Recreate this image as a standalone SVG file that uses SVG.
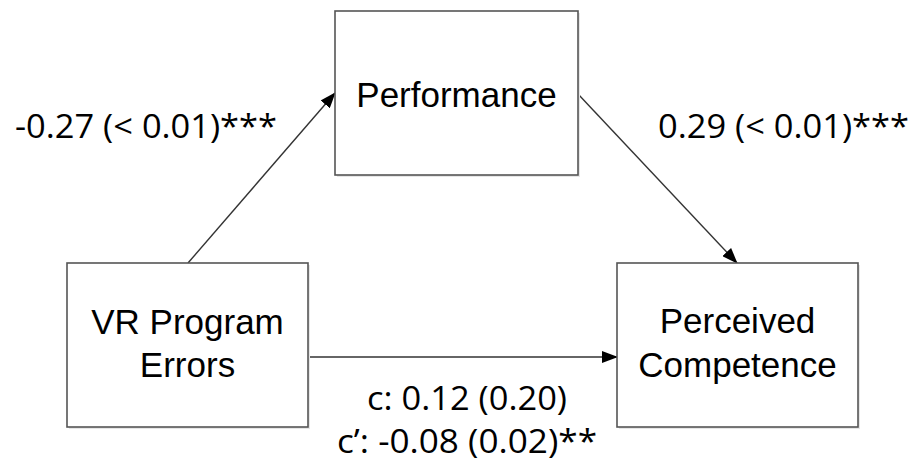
<svg xmlns="http://www.w3.org/2000/svg" width="914" height="465" viewBox="0 0 914 465">
<defs>
<marker id="ah" markerWidth="16" markerHeight="12" refX="15" refY="6" orient="auto" markerUnits="userSpaceOnUse">
<path d="M0,0 L16,6 L0,12 Z" fill="#000"/>
</marker>
</defs>
<style>
.box{fill:#fff;stroke:#555;stroke-width:1.6}
.sh{fill:#e6e6e6;stroke:none}
.nt{font-family:"Liberation Sans",Arial,sans-serif;font-size:35px;fill:#000;text-anchor:middle}
.lb{font-family:"Open Sans","Noto Sans",sans-serif;font-size:32px;fill:#000}
.cn{stroke:#333;stroke-width:1.4;fill:none;marker-end:url(#ah)}
</style>
<rect width="914" height="465" fill="#fff"/>
<g id="connectors">
<line class="cn" x1="188" y1="263" x2="335" y2="93"/>
<line class="cn" x1="578" y1="94" x2="737" y2="263"/>
<line class="cn" x1="308" y1="357" x2="617" y2="357"/>
</g>
<g id="performance">
<rect class="sh" x="337" y="13" width="243" height="164"/>
<rect class="box" x="335" y="11" width="243" height="164"/>
<text class="nt" x="456.5" y="107">Performance</text>
</g>
<g id="vr-errors">
<rect class="sh" x="69" y="265" width="241" height="164"/>
<rect class="box" x="67" y="263" width="241" height="164"/>
<text class="nt" x="187.5" y="334">VR Program</text>
<text class="nt" x="187.5" y="377">Errors</text>
</g>
<g id="perceived-competence">
<rect class="sh" x="619" y="265" width="241" height="164"/>
<rect class="box" x="617" y="263" width="241" height="164"/>
<text class="nt" x="737.5" y="333">Perceived</text>
<text class="nt" x="737.5" y="377">Competence</text>
</g>
<g id="labels">
<text class="lb" x="15" y="138" textLength="262" lengthAdjust="spacingAndGlyphs">-0.27 (&lt; 0.01)***</text>
<text class="lb" x="658" y="138" textLength="251" lengthAdjust="spacingAndGlyphs">0.29 (&lt; 0.01)***</text>
<text class="lb" x="367" y="410" textLength="200" lengthAdjust="spacingAndGlyphs">c: 0.12 (0.20)</text>
<text class="lb" x="337" y="453" textLength="260" lengthAdjust="spacingAndGlyphs">c’: -0.08 (0.02)**</text>
</g>
</svg>
